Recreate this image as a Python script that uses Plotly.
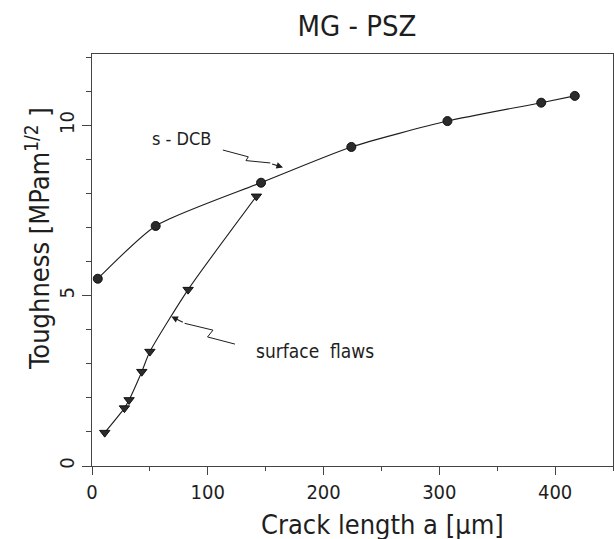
import plotly.graph_objects as go

# ---- data ----
dcb_a = [5, 55, 146, 224, 307, 388, 417]
dcb_k = [5.50, 7.05, 8.32, 9.37, 10.13, 10.67, 10.87]

flaw_a = [11, 28, 32, 43, 50, 83, 142]
flaw_k = [0.98, 1.70, 1.94, 2.77, 3.36, 5.18, 7.92]

x_ticks = [0, 100, 200, 300, 400]
y_ticks = [0, 5, 10]

FONT = "DejaVu Sans Condensed, DejaVu Sans, sans-serif"
INK = "#1e1e1e"

fig = go.Figure()

fig.add_trace(go.Scatter(
    x=dcb_a, y=dcb_k, mode="lines+markers", name="s-DCB",
    line=dict(color=INK, width=1.1, shape="spline", smoothing=0.6),
    marker=dict(symbol="circle", size=9, color="#2b2b2b", line=dict(color="#111", width=1)),
    showlegend=False,
))
fig.add_trace(go.Scatter(
    x=flaw_a, y=flaw_k, mode="lines+markers", name="surface flaws",
    line=dict(color=INK, width=1.1, shape="spline", smoothing=0.6),
    marker=dict(symbol="triangle-down", size=9, color="#2b2b2b", line=dict(color="#111", width=1)),
    showlegend=False,
))

# leader lines (zigzag) for the labels
fig.add_shape(type="path", xref="x", yref="y",
              path="M 113,9.28 L 135,9.08 L 133,8.97 L 154,8.90",
              line=dict(color=INK, width=1))
fig.add_annotation(x=165, y=8.77, ax=153, ay=8.90, xref="x", yref="y",
                   axref="x", ayref="y", text=" ", showarrow=True,
                   arrowhead=2, arrowsize=1.2, arrowwidth=1.1, arrowcolor=INK)

fig.add_shape(type="path", xref="x", yref="y",
              path="M 80,4.19 L 104.5,3.99 L 99.8,3.79 L 123.5,3.58",
              line=dict(color=INK, width=1))
fig.add_annotation(x=68.5, y=4.39, ax=81, ay=4.18, xref="x", yref="y",
                   axref="x", ayref="y", text=" ", showarrow=True,
                   arrowhead=2, arrowsize=1.2, arrowwidth=1.1, arrowcolor=INK)

fig.add_annotation(x=77, y=9.61, xref="x", yref="y", text="s - DCB",
                   xanchor="center", yanchor="middle",
                   showarrow=False, font=dict(family=FONT, size=18, color=INK))
fig.add_annotation(x=193, y=3.38, xref="x", yref="y", text="surface  flaws",
                   xanchor="center", yanchor="middle",
                   showarrow=False, font=dict(family=FONT, size=19, color=INK))

# axis titles
fig.add_annotation(x=-0.106, y=0.553, xref="paper", yref="paper",
                   xanchor="center", yanchor="middle",
                   text="Toughness [MPam<sup>1/2</sup> ]", textangle=-90,
                   showarrow=False, font=dict(family=FONT, size=27, color=INK))
fig.add_annotation(x=0.557, y=-0.143, xref="paper", yref="paper",
                   xanchor="center", yanchor="middle",
                   text="Crack length a [µm]",
                   showarrow=False, font=dict(family=FONT, size=27, color=INK))

fig.update_layout(
    width=614, height=539,
    margin=dict(l=92, r=1, t=54, b=73),
    paper_bgcolor="white", plot_bgcolor="white",
    title=dict(text="MG - PSZ", x=357 / 614, xanchor="center", xref="container",
               y=1 - 26 / 539, yanchor="middle", yref="container",
               font=dict(family=FONT, size=29, color=INK)),
    font=dict(family=FONT, color=INK),
)

fig.update_xaxes(
    range=[0, 450], tickvals=x_ticks, ticktext=[str(v) for v in x_ticks],
    showgrid=False, zeroline=False,
    showline=True, linecolor="#444", linewidth=1.3, mirror=True,
    ticks="outside", ticklen=8, tickwidth=1, tickcolor="#444",
    minor=dict(dtick=50, ticks="outside", ticklen=4, tickcolor="#444", showgrid=False),
    tickfont=dict(family=FONT, size=20, color=INK),
)
fig.update_yaxes(
    range=[0, 12.1], tickvals=y_ticks, ticktext=[str(v) for v in y_ticks],
    showgrid=False, zeroline=False,
    showline=True, linecolor="#444", linewidth=1.3, mirror=True,
    ticks="outside", ticklen=9, tickwidth=1, tickcolor="#444",
    minor=dict(dtick=1, ticks="outside", ticklen=5, tickcolor="#444", showgrid=False),
    tickangle=-90,
    tickfont=dict(family=FONT, size=20, color=INK),
)

fig.write_html("out.html")
